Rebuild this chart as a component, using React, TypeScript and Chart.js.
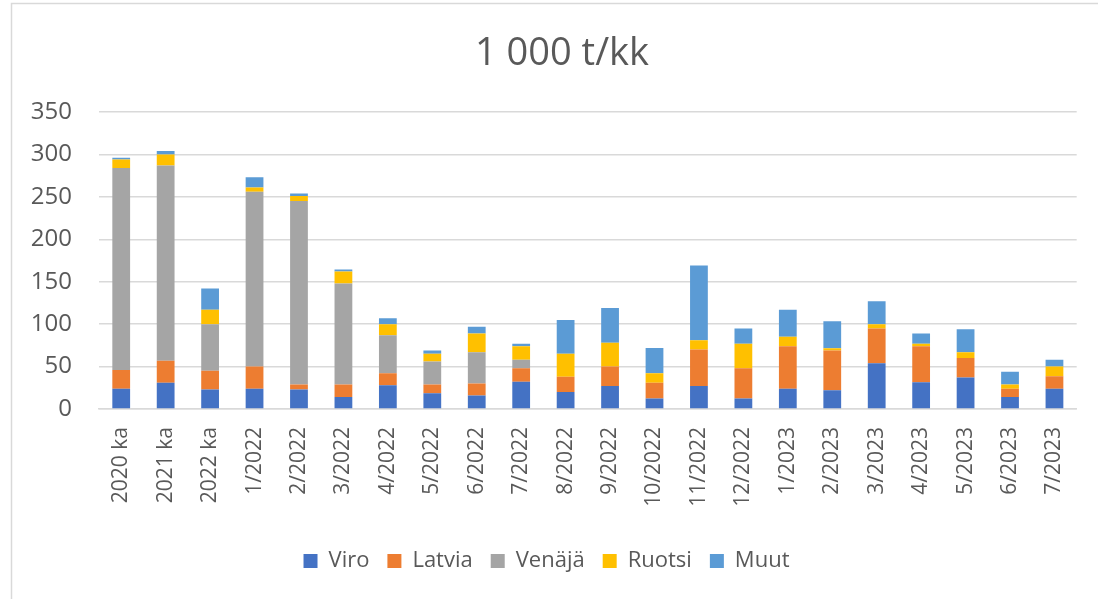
import { useEffect, useRef } from "react";
import { Chart, registerables } from "chart.js";

Chart.register(...registerables);

const categories = [
  "2020 ka", "2021 ka", "2022 ka",
  "1/2022", "2/2022", "3/2022", "4/2022", "5/2022", "6/2022", "7/2022", "8/2022", "9/2022", "10/2022", "11/2022", "12/2022",
  "1/2023", "2/2023", "3/2023", "4/2023", "5/2023", "6/2023", "7/2023",
];

const viro = [24, 31, 23, 24, 23, 14, 28, 18.5, 16, 32, 20, 27, 12.5, 27, 12.5, 24, 22, 54, 31.5, 37, 14, 24];
const latvia = [22, 26, 22, 26, 6, 15, 14, 10.5, 14, 16, 18, 23, 18.5, 43, 35.5, 50, 47, 41, 42.5, 23, 10, 14.5];
const venaja = [238, 230, 55, 206, 216, 119, 45, 27, 37, 10, 0, 0, 0, 0, 0, 0, 0, 0, 0, 0, 0, 0];
const ruotsi = [10, 13, 17, 5, 6, 14, 13, 9, 22, 16, 27, 28, 11, 11, 29, 11, 2.5, 5, 3, 7, 5, 11.5];
const muut = [2, 4, 25, 12, 3, 2.5, 7, 4, 8, 3, 40, 41, 30, 88, 18, 32, 32, 27, 12, 27, 15, 8];

const yTicks = [0, 50, 100, 150, 200, 250, 300, 350];
const titleText = "1 000 t/kk";

const FONT = "'Open Sans', sans-serif";
const TEXT = "#595959";
const GRID = "#d9d9d9";

const decorPlugin = {
  id: "decor",
  beforeDraw(chart: any) {
    const ctx = chart.ctx;
    ctx.save();
    ctx.fillStyle = "#ffffff";
    ctx.fillRect(0, 0, chart.width, chart.height);
    ctx.strokeStyle = GRID;
    ctx.lineWidth = 1.5;
    ctx.beginPath();
    ctx.moveTo(11.5, chart.height);
    ctx.lineTo(11.5, 3.5);
    ctx.lineTo(chart.width, 3.5);
    ctx.stroke();
    ctx.restore();
  },
  afterDraw(chart: any) {
    const ctx = chart.ctx;
    ctx.save();
    ctx.fillStyle = TEXT;
    ctx.font = `38px ${FONT}`;
    ctx.textAlign = "center";
    ctx.textBaseline = "alphabetic";
    ctx.fillText(titleText, 562, 65);
    ctx.restore();
  },
};

export default function App() {
  const ref = useRef<HTMLCanvasElement | null>(null);

  useEffect(() => {
    if (!ref.current) return;
    const mk = (label: string, data: number[], color: string) => ({
      label,
      data,
      backgroundColor: color,
      borderWidth: 0,
      categoryPercentage: 0.8,
      barPercentage: 0.5,
    });
    const chart = new Chart(ref.current, {
      type: "bar",
      data: {
        labels: categories,
        datasets: [
          mk("Viro", viro, "#4472C4"),
          mk("Latvia", latvia, "#ED7D31"),
          mk("Venäjä", venaja, "#A5A5A5"),
          mk("Ruotsi", ruotsi, "#FFC000"),
          mk("Muut", muut, "#5B9BD5"),
        ],
      },
      options: {
        animation: false,
        responsive: false,
        maintainAspectRatio: false,
        layout: { padding: { left: 10, right: 15, top: 112, bottom: 17 } },
        plugins: {
          title: { display: false },
          legend: {
            position: "bottom",
            labels: {
              color: TEXT,
              font: { family: FONT, size: 22 },
              boxWidth: 14,
              boxHeight: 14,
              padding: 18,
            },
          },
          tooltip: { enabled: false },
        },
        scales: {
          x: {
            stacked: true,
            grid: { display: false, drawTicks: false },
            border: { display: true, color: GRID, width: 1.5 },
            ticks: {
              color: TEXT,
              font: { family: FONT, size: 21 },
              minRotation: 90,
              maxRotation: 90,
              autoSkip: false,
              padding: 18,
            },
            afterFit: (s: any) => {
              s.height = 123;
            },
          },
          y: {
            stacked: true,
            min: 0,
            max: 350,
            afterBuildTicks: (s: any) => {
              s.ticks = yTicks.map((v) => ({ value: v }));
            },
            grid: { color: GRID, lineWidth: 1.5, drawTicks: false },
            border: { display: false },
            ticks: {
              color: TEXT,
              font: { family: FONT, size: 24 },
              padding: 27,
            },
            afterFit: (s: any) => {
              s.width = 89;
            },
          },
        },
      },
      plugins: [decorPlugin],
    } as any);
    return () => chart.destroy();
  }, []);

  return (
    <div style={{ position: "fixed", left: 0, top: 0, width: 1098, height: 599 }}>
      <canvas ref={ref} width={1098} height={599} style={{ width: 1098, height: 599 }} />
    </div>
  );
}
